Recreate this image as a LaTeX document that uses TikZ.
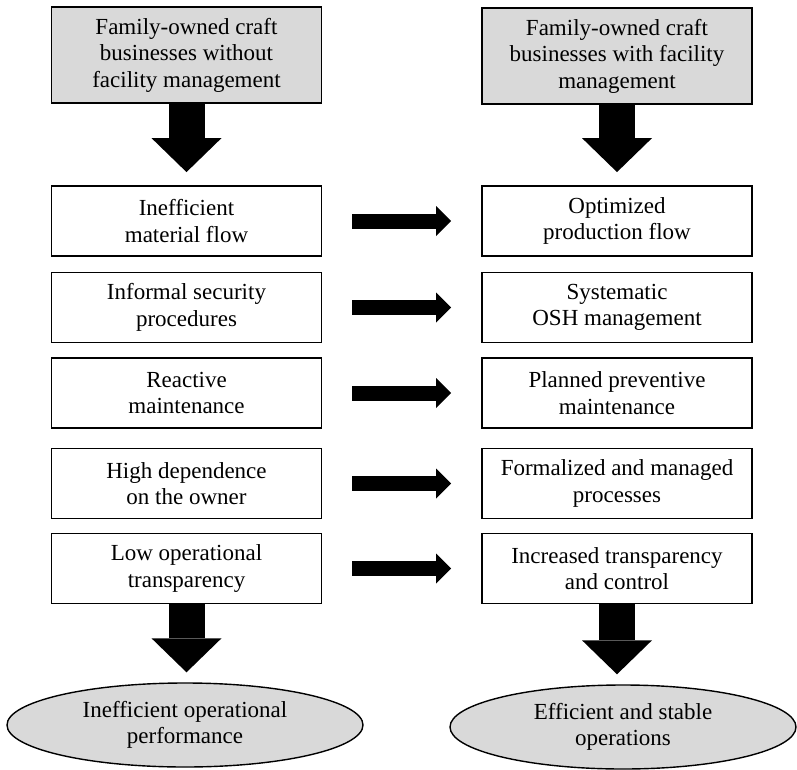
\documentclass[tikz,border=0pt]{standalone}
\usepackage{fontspec}
\setmainfont{Liberation Serif}
\usetikzlibrary{shapes.geometric,arrows.meta}

\definecolor{boxgray}{RGB}{217,217,217}

\tikzset{
	txt/.style={align=center, font=\fontsize{23}{26.5}\selectfont},
	box/.style={txt, draw, line width=1.8pt, minimum width=270pt, minimum height=70pt, inner sep=2pt},
	topbox/.style={box, fill=boxgray, minimum height=96pt},
	goal/.style={txt, draw, ellipse, fill=boxgray, line width=1.4pt, inner sep=0pt, minimum height=84pt},
	fatdown/.style={line width=36pt, -{Triangle[width=70pt,length=34pt,line width=0pt]}},
	fatright/.style={line width=15pt, -{Triangle[width=30pt,length=15pt,line width=0pt]}},
}

\begin{document}
\begin{tikzpicture}[x=1pt,y=-1pt]
			\useasboundingbox (0,0) rectangle (797,770);
			
			% Starting situation
			\node (t1) at (186.5,55) [topbox] {Family-owned craft\\businesses without\\facility management};
			\node (t2) at (617,56) [topbox] {Family-owned craft\\businesses with facility\\management};
			
			% Left column
			\node (l1) at (186.5,221) [box] {Inefficient\\material flow};
			\node (l2) at (186.5,307.5) [box] {Informal security\\procedures};
			\node (l3) at (186.5,393) [box] {Reactive\\maintenance};
			\node (l4) at (186.5,483.5) [box] {High dependence\\on the owner};
			\node (l5) at (186.5,568.5) [box] {Low operational\\transparency};
			
			% Right column
			\node (r1) at (617,221) [box] {Optimized\\production flow};
			\node (r2) at (617,307.5) [box] {Systematic\\OSH management};
			\node (r3) at (617,393) [box] {Planned preventive\\maintenance};
			\node (r4) at (617,483.5) [box] {Formalized and managed\\processes};
			\node (r5) at (617,568.5) [box] {Increased transparency\\and control};
			
			% Outcomes
			\node (e1) at (185,725) [goal, minimum width=356pt] {Inefficient operational\\performance};
			\node (e2) at (623,727) [goal, minimum width=346pt] {Efficient and stable\\operations};
			
			% Block arrows
			\draw[fatdown, shorten >=13pt] (t1.south) -- (t1.south |- l1.north);
			\draw[fatdown, shorten >=13pt] (t2.south) -- (t2.south |- r1.north);
			\draw[fatdown, shorten >=10pt] (l5.south) -- (l5.south |- e1.north);
			\draw[fatdown, shorten >=10pt] (r5.south) -- (r5.south |- e2.north);
			\foreach \i in {1,...,5}
				\draw[fatright, shorten <=30pt, shorten >=30pt] (l\i.east) -- (r\i.west);
		\end{tikzpicture}
\end{document}
